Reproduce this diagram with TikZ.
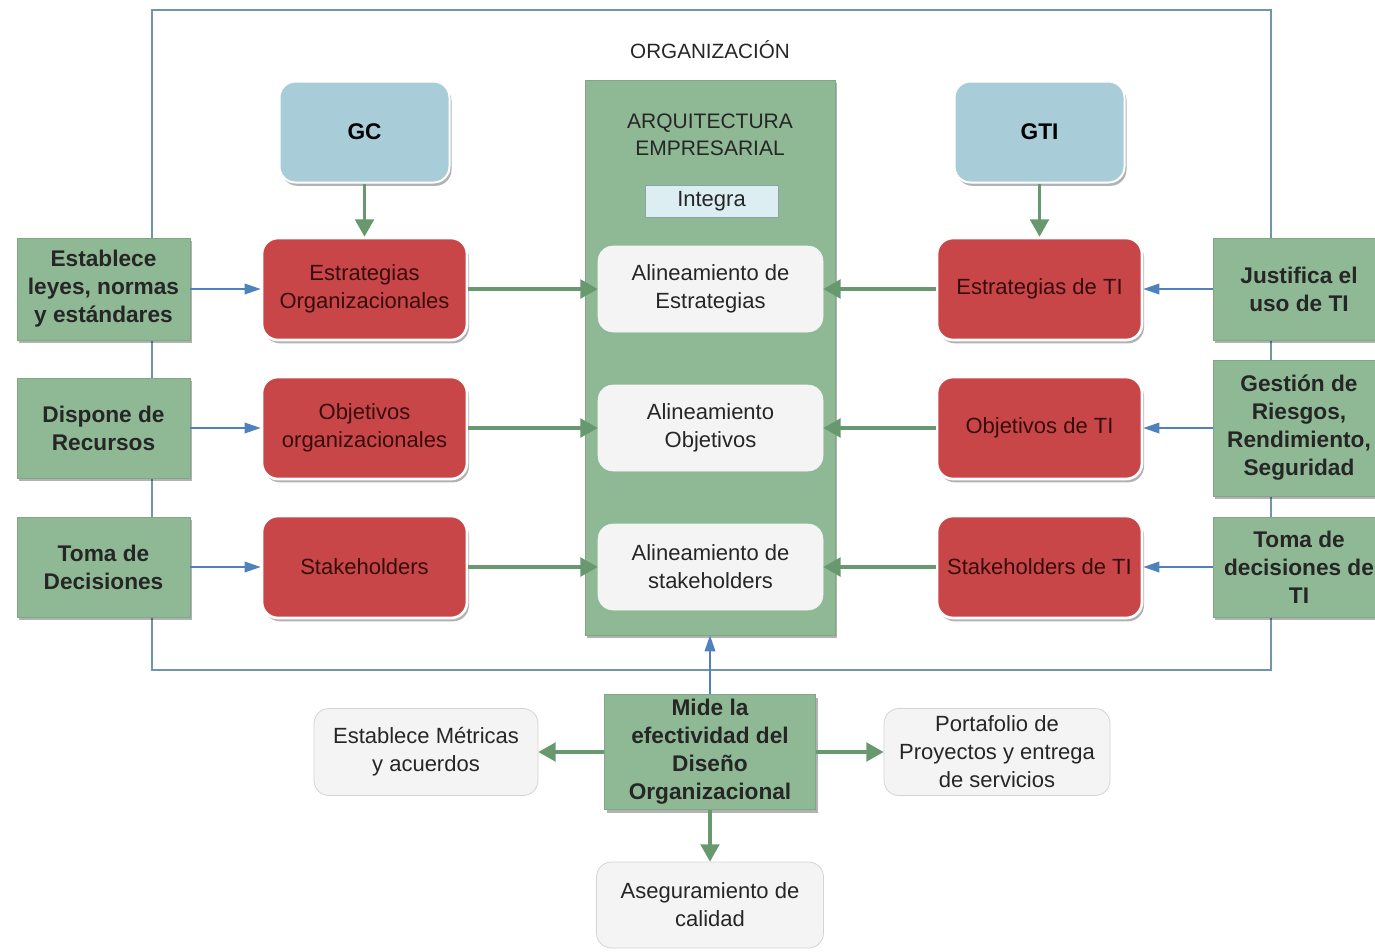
\documentclass[tikz,border=0pt]{standalone}
\usepackage{fontspec}
\setmainfont{Liberation Sans}
\usetikzlibrary{arrows.meta,shadows}
\newdimen\px \px=0.75pt
\definecolor{framec}{RGB}{112,150,170}
\definecolor{boxgreen}{RGB}{143,185,149}
\definecolor{boxred}{RGB}{201,70,72}
\definecolor{redtext}{RGB}{55,12,12}
\definecolor{boxblue}{RGB}{168,205,216}
\definecolor{paleblue}{RGB}{221,238,243}
\definecolor{palegray}{RGB}{244,244,244}
\definecolor{edgegray}{RGB}{212,212,212}
\definecolor{arrblue}{RGB}{79,129,189}
\definecolor{arrgreen}{RGB}{104,152,110}
\tikzset{
  softshadow/.style={drop shadow={shadow xshift=1.5pt,shadow yshift=-2.5pt,opacity=0.3,fill=black}},
  regtext/.style={font=\fontsize{16.5}{21}\selectfont,align=center,inner sep=0pt},
  boldtext/.style={font=\fontsize{17}{21}\selectfont\bfseries,align=center,inner sep=0pt},
  greenbox/.style={boldtext,fill=boxgreen,draw=boxgreen!90!black,line width=0.5pt,text=black!85,softshadow},
  redbox/.style={regtext,fill=boxred,draw=white,line width=2pt,rounded corners=16\px,text=redtext,
    minimum width=205\px,minimum height=102\px,softshadow},
  bluebox/.style={boldtext,fill=boxblue,draw=white,line width=1.5pt,rounded corners=16\px,
    minimum width=170\px,minimum height=101\px,softshadow},
  alignbox/.style={regtext,fill=palegray,draw=palegray,rounded corners=15\px,
    minimum width=225\px,minimum height=86\px,text=black!85},
  graybox/.style={regtext,fill=palegray,draw=edgegray,line width=0.6pt,rounded corners=15\px,
    minimum height=87\px,text=black!85},
  bluearrow/.style={draw=arrblue,line width=1.1pt,-{Triangle[length=12pt,width=8pt]}},
  greenarrow/.style={draw=arrgreen,line width=2.6pt,-{Triangle[length=13pt,width=14pt]}},
}
\begin{document}
\begin{tikzpicture}[x=0.75pt,y=-0.75pt]
\useasboundingbox (0,0) rectangle (1375,951);
\clip (0,0) rectangle (1375,951);

% organisation frame
\draw[framec,line width=1.1pt] (152,10) rectangle (1271,670);
\node[font=\fontsize{15.5}{19}\selectfont,text=black!85] (org) at (710,50) {ORGANIZACIÓN};

% enterprise architecture column
\node[fill=boxgreen,draw=boxgreen!90!black,line width=0.5pt,minimum width=250\px,minimum height=555\px,
  inner sep=0pt,softshadow] (arq) at (710,357.5) {};
\node[font=\fontsize{15.75}{20}\selectfont,align=center,text=black!85] (arqtitle) at (710,134.5)
  {ARQUITECTURA\\EMPRESARIAL};
\node[regtext,fill=paleblue,draw=boxblue!80!black,line width=0.5pt,minimum width=133\px,
  minimum height=32\px,text=black!85] (integra) at (711.5,201) {Integra};
\node[alignbox] (al1) at (710.5,289) {Alineamiento de\\Estrategias};
\node[alignbox] (al2) at (710.5,428) {Alineamiento\\Objetivos};
\node[alignbox] (al3) at (710.5,567) {Alineamiento de\\stakeholders};

% governance boxes
\node[bluebox] (gc) at (364.5,132) {GC};
\node[bluebox] (gti) at (1039.5,132) {GTI};

% organisational side
\node[redbox] (rl1) at (364.5,289) {Estrategias\\Organizacionales};
\node[redbox] (rl2) at (364.5,428) {Objetivos\\organizacionales};
\node[redbox] (rl3) at (364.5,567) {Stakeholders};

% IT side
\node[redbox] (rr1) at (1039.5,289) {Estrategias de TI};
\node[redbox] (rr2) at (1039.5,428) {Objetivos de TI};
\node[redbox] (rr3) at (1039.5,567) {Stakeholders de TI};

% left drivers
\node[greenbox,minimum width=173\px,minimum height=102\px] (gl1) at (103.5,289) {Establece\\leyes, normas\\y estándares};
\node[greenbox,minimum width=173\px,minimum height=100\px] (gl2) at (103.5,428) {Dispone de\\Recursos};
\node[greenbox,minimum width=173\px,minimum height=100\px] (gl3) at (103.5,567) {Toma de\\Decisiones};

% right drivers
\node[greenbox,minimum width=172\px,minimum height=102\px] (gr1) at (1299,289) {Justifica el\\uso de TI};
\node[greenbox,minimum width=172\px,minimum height=136\px] (gr2) at (1299,428) {Gestión de\\Riesgos,\\Rendimiento,\\Seguridad};
\node[greenbox,minimum width=172\px,minimum height=100\px] (gr3) at (1299,567) {Toma de\\decisiones de\\TI};

% measurement and its outputs
\node[greenbox,minimum width=211\px,minimum height=115\px] (mide) at (710,752)
  {Mide la\\efectividad del\\Diseño\\Organizacional};
\node[graybox,minimum width=224\px] (met) at (426,752) {Establece Métricas\\y acuerdos};
\node[graybox,minimum width=226\px] (port) at (997,752) {Portafolio de\\Proyectos y entrega\\de servicios};
\node[graybox,minimum width=227\px,minimum height=86\px] (aseg) at (710,905) {Aseguramiento de\\calidad};

% connectors
\draw[greenarrow] (gc) -- (rl1);
\draw[greenarrow] (gti) -- (rr1);
\foreach \i in {1,2,3}{
  \draw[bluearrow] (gl\i) -- (rl\i);
  \draw[bluearrow] (gr\i) -- (rr\i);
  \draw[greenarrow] (rl\i) -- (al\i);
  \draw[greenarrow] (rr\i) -- (al\i);
}
\draw[bluearrow] (mide) -- (arq);
\draw[greenarrow] (mide) -- (met);
\draw[greenarrow] (mide) -- (port);
\draw[greenarrow] (mide) -- (aseg);
\end{tikzpicture}
\end{document}
